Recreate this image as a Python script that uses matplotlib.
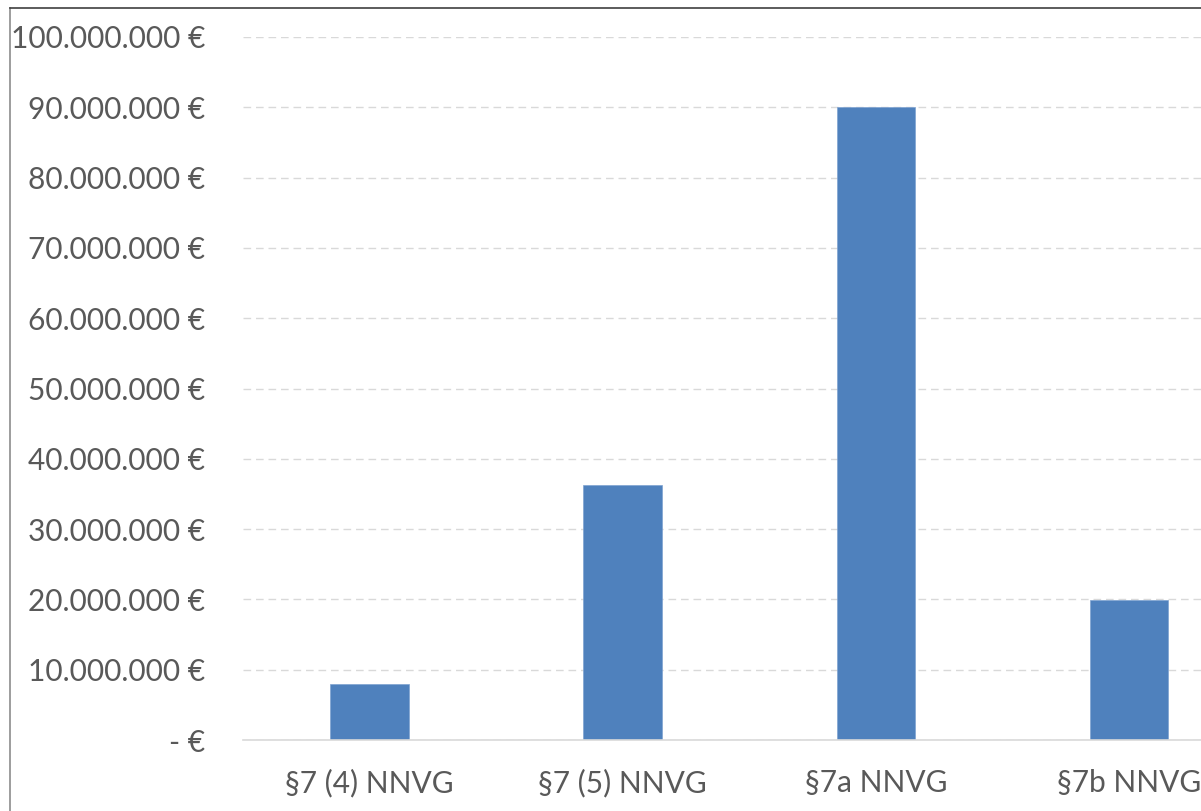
import matplotlib.pyplot as plt
from matplotlib.lines import Line2D
import numpy as np

# Daten
kategorien = ['§7 (4) NNVG', '§7 (5) NNVG', '§7a NNVG', '§7b NNVG']
betraege = [8_000_000, 36_300_000, 90_000_000, 19_900_000]
y_ticks = np.arange(0, 100_000_001, 10_000_000)


def euro(v):
    if v == 0:
        return '- €'
    return f'{v:,.0f} €'.replace(',', '.')


plt.rcParams['font.family'] = ['Lato', 'DejaVu Sans']

fig = plt.figure(figsize=(12.01, 8.11), dpi=100)
# Diagrammfläche reicht rechts über den Bildrand hinaus (Bild ist beschnitten)
ax = fig.add_axes([0.2023, 0.0875, 0.8432, 0.8669])

x = np.arange(len(kategorien))
ax.bar(x, betraege, width=0.31, color='#4F81BD', edgecolor='#7FA3D1', linewidth=0.5, zorder=3)

ax.set_xlim(-0.5, 3.5)
ax.set_ylim(0, 100_000_000)
ax.set_yticks(y_ticks)
ax.set_yticklabels([euro(v) for v in y_ticks])
ax.set_xticks(x)
ax.set_xticklabels(kategorien)

ax.grid(axis='y', color='#D9D9D9', linestyle=(0, (5.5, 3.5)), linewidth=1.0, zorder=0)
ax.axhline(0, color='#D9D9D9', linewidth=1.2, zorder=4, clip_on=False)

for s in ax.spines.values():
    s.set_visible(False)
ax.tick_params(axis='both', length=0, colors='#595959', labelsize=21.5)
ax.tick_params(axis='y', pad=27)
ax.tick_params(axis='x', pad=21)

# Rahmen des Diagramms (links und oben)
fig.add_artist(Line2D([10 / 1201, 10 / 1201], [0, 1 - 8 / 811], color='#8C8C8C', linewidth=1.2))
fig.add_artist(Line2D([10 / 1201, 1], [1 - 8 / 811, 1 - 8 / 811], color='#404040', linewidth=1.2))

fig.savefig('out.png', dpi=100)
